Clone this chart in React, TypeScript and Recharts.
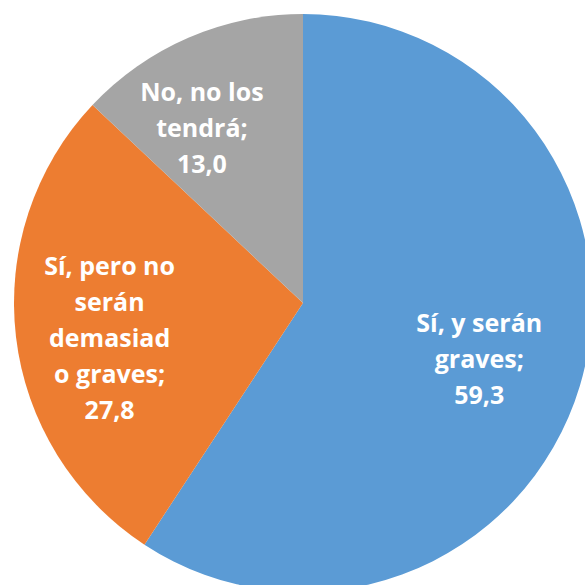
import { PieChart, Pie, Cell } from 'recharts'

const categories = ['Sí, y serán graves', 'Sí, pero no serán demasiado graves', 'No, no los tendrá']
const values = [59.3, 27.8, 13.0]
// label text as wrapped in the original chart
const labelLines = [
  ['Sí, y serán', 'graves;', '59,3'],
  ['Sí, pero no', 'serán', 'demasiad', 'o graves;', '27,8'],
  ['No, no los', 'tendrá;', '13,0'],
]

const COLORS = ['#5B9BD5', '#ED7D31', '#A5A5A5']
// label placement: fraction of radius and angle nudge (degrees, ccw)
const LABEL_RADIUS = [0.64, 0.68, 0.7]
const LABEL_ANGLE_NUDGE = [-1, 3.5, 6.6]
const LINE_HEIGHT = 36
const FONT_SIZE = 25

const data = categories.map((name, i) => ({ name, value: values[i] }))

const RADIAN = Math.PI / 180

function SliceLabel(props: any) {
  const { cx, cy, midAngle, outerRadius, index } = props
  const r = outerRadius * LABEL_RADIUS[index]
  const a = (midAngle + LABEL_ANGLE_NUDGE[index]) * RADIAN
  const x = cx + r * Math.cos(-a)
  const y = cy + r * Math.sin(-a)
  const lines = labelLines[index]
  const firstBaseline = y + FONT_SIZE * 0.36 - ((lines.length - 1) / 2) * LINE_HEIGHT
  return (
    <text
      x={x}
      y={firstBaseline}
      fill="#fff"
      textAnchor="middle"
      fontFamily="'Open Sans', sans-serif"
      fontWeight={700}
      fontSize={FONT_SIZE}
    >
      {lines.map((line, i) => (
        <tspan key={i} x={x} y={firstBaseline + i * LINE_HEIGHT}>
          {line}
        </tspan>
      ))}
    </text>
  )
}

export default function App() {
  return (
    <div
      style={{
        position: 'absolute',
        top: 0,
        left: 0,
        width: 585,
        height: 585,
        overflow: 'hidden',
        background: '#fff',
      }}
    >
      <PieChart width={585} height={585} margin={{ top: 0, right: 0, bottom: 0, left: 0 }}>
        <Pie
          data={data}
          dataKey="value"
          nameKey="name"
          cx={303}
          cy={303}
          outerRadius={289}
          startAngle={90}
          endAngle={-270}
          stroke="none"
          labelLine={false}
          label={SliceLabel}
          isAnimationActive={false}
        >
          {data.map((entry, index) => (
            <Cell key={`cell-${index}`} fill={COLORS[index]} />
          ))}
        </Pie>
      </PieChart>
    </div>
  )
}
